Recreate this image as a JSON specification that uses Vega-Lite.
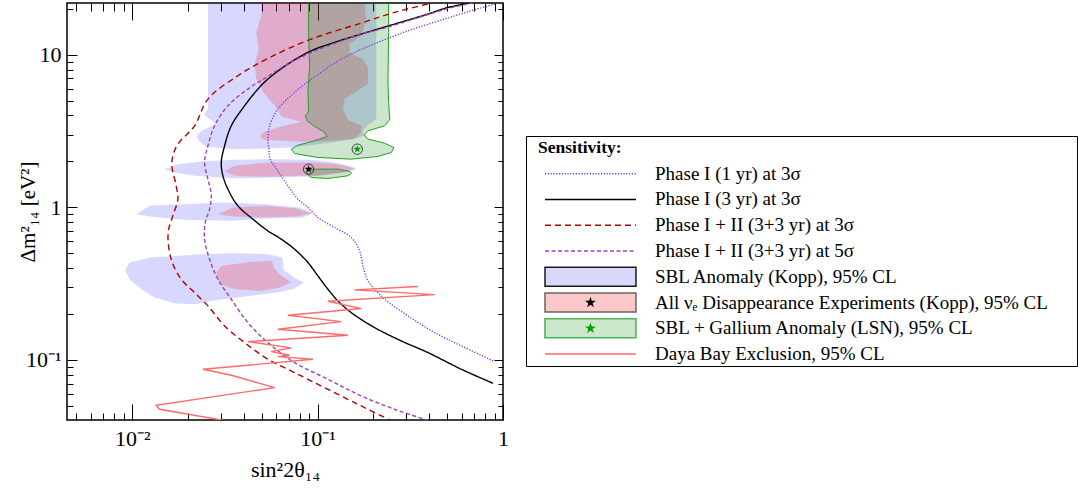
{
"$schema": "https://vega.github.io/schema/vega-lite/v6.json",
"background": "white",
"padding": {"left": 16, "top": 1, "right": 0, "bottom": 0},
"config": {"view": {"stroke": null}, "font": "Liberation Serif",
  "axis": {"labelFont": "Liberation Serif", "titleFont": "Liberation Serif", "titleFontWeight": "normal", "labelColor": "black", "titleColor": "black", "tickColor": "black", "domain": false, "grid": false, "zindex": 0},
  "text": {"font": "Liberation Serif"}},
"datasets": {
 "regions": [
  {"r":"B","p":"B1","i":0,"x":0.02561,"y":25.62},{"r":"B","p":"B1","i":1,"x":0.02561,"y":4.403},{"r":"B","p":"B1","i":2,"x":0.02436,"y":4.021},{"r":"B","p":"B1","i":3,"x":0.02614,"y":3.786},{"r":"B","p":"B1","i":4,"x":0.0284,"y":3.51},{"r":"B","p":"B1","i":5,"x":0.02357,"y":3.174},{"r":"B","p":"B1","i":6,"x":0.02216,"y":2.914},{"r":"B","p":"B1","i":7,"x":0.02309,"y":2.688},{"r":"B","p":"B1","i":8,"x":0.02508,"y":2.492},{"r":"B","p":"B1","i":9,"x":0.03566,"y":2.406},{"r":"B","p":"B1","i":10,"x":0.05395,"y":2.43},{"r":"B","p":"B1","i":11,"x":0.0721,"y":2.467},{"r":"B","p":"B1","i":12,"x":0.1004,"y":2.595},{"r":"B","p":"B1","i":13,"x":0.1519,"y":2.771},{"r":"B","p":"B1","i":14,"x":0.1778,"y":2.943},{"r":"B","p":"B1","i":15,"x":0.1756,"y":3.174},{"r":"B","p":"B1","i":16,"x":0.1869,"y":3.458},{"r":"B","p":"B1","i":17,"x":0.2073,"y":3.786},{"r":"B","p":"B1","i":18,"x":0.2073,"y":25.62},
  {"r":"B","p":"B2","i":0,"x":0.01494,"y":1.779},{"r":"B","p":"B2","i":1,"x":0.01763,"y":1.919},{"r":"B","p":"B2","i":2,"x":0.02357,"y":1.997},{"r":"B","p":"B2","i":3,"x":0.03566,"y":2.048},{"r":"B","p":"B2","i":4,"x":0.05395,"y":2.069},{"r":"B","p":"B2","i":5,"x":0.09245,"y":2.048},{"r":"B","p":"B2","i":6,"x":0.1235,"y":1.968},{"r":"B","p":"B2","i":7,"x":0.1583,"y":1.824},{"r":"B","p":"B2","i":8,"x":0.1616,"y":1.779},{"r":"B","p":"B2","i":9,"x":0.1457,"y":1.692},{"r":"B","p":"B2","i":10,"x":0.09245,"y":1.593},{"r":"B","p":"B2","i":11,"x":0.05395,"y":1.561},{"r":"B","p":"B2","i":12,"x":0.03566,"y":1.553},{"r":"B","p":"B2","i":13,"x":0.02171,"y":1.609},{"r":"B","p":"B2","i":14,"x":0.01692,"y":1.692},
  {"r":"B","p":"B3","i":0,"x":0.01052,"y":0.902},{"r":"B","p":"B3","i":1,"x":0.0124,"y":1.023},{"r":"B","p":"B3","i":2,"x":0.01878,"y":1.049},{"r":"B","p":"B3","i":3,"x":0.03216,"y":1.0755},{"r":"B","p":"B3","i":4,"x":0.05284,"y":1.049},{"r":"B","p":"B3","i":5,"x":0.07996,"y":0.9976},{"r":"B","p":"B3","i":6,"x":0.09435,"y":0.9157},{"r":"B","p":"B3","i":7,"x":0.08336,"y":0.8578},{"r":"B","p":"B3","i":8,"x":0.05284,"y":0.8449},{"r":"B","p":"B3","i":9,"x":0.03493,"y":0.8157},{"r":"B","p":"B3","i":10,"x":0.01878,"y":0.828},{"r":"B","p":"B3","i":11,"x":0.0124,"y":0.8708},
  {"r":"B","p":"B4","i":0,"x":0.009169,"y":0.3892},{"r":"B","p":"B4","i":1,"x":0.009679,"y":0.4347},{"r":"B","p":"B4","i":2,"x":0.01266,"y":0.4688},{"r":"B","p":"B4","i":3,"x":0.02357,"y":0.4931},{"r":"B","p":"B4","i":4,"x":0.03566,"y":0.5005},{"r":"B","p":"B4","i":5,"x":0.05395,"y":0.4931},{"r":"B","p":"B4","i":6,"x":0.06446,"y":0.4688},{"r":"B","p":"B4","i":7,"x":0.06581,"y":0.3892},{"r":"B","p":"B4","i":8,"x":0.07453,"y":0.3466},{"r":"B","p":"B4","i":9,"x":0.08439,"y":0.3214},{"r":"B","p":"B4","i":10,"x":0.07359,"y":0.2906},{"r":"B","p":"B4","i":11,"x":0.05984,"y":0.2764},{"r":"B","p":"B4","i":12,"x":0.04296,"y":0.2628},{"r":"B","p":"B4","i":13,"x":0.0284,"y":0.2474},{"r":"B","p":"B4","i":14,"x":0.02171,"y":0.2317},{"r":"B","p":"B4","i":15,"x":0.01692,"y":0.2353},{"r":"B","p":"B4","i":16,"x":0.0132,"y":0.2563},{"r":"B","p":"B4","i":17,"x":0.01119,"y":0.2906},{"r":"B","p":"B4","i":18,"x":0.009679,"y":0.338},
  {"r":"P","p":"P1","i":0,"x":0.04966,"y":25.62},{"r":"P","p":"P1","i":1,"x":0.04966,"y":18.02},{"r":"P","p":"P1","i":2,"x":0.04667,"y":14.01},{"r":"P","p":"P1","i":3,"x":0.04804,"y":10.89},{"r":"P","p":"P1","i":4,"x":0.04571,"y":8.474},{"r":"P","p":"P1","i":5,"x":0.04667,"y":6.927},{"r":"P","p":"P1","i":6,"x":0.05176,"y":5.523},{"r":"P","p":"P1","i":7,"x":0.06109,"y":4.403},{"r":"P","p":"P1","i":8,"x":0.06367,"y":3.941},{"r":"P","p":"P1","i":9,"x":0.08164,"y":3.636},{"r":"P","p":"P1","i":10,"x":0.06367,"y":3.388},{"r":"P","p":"P1","i":11,"x":0.05176,"y":3.126},{"r":"P","p":"P1","i":12,"x":0.04864,"y":2.914},{"r":"P","p":"P1","i":13,"x":0.05176,"y":2.771},{"r":"P","p":"P1","i":14,"x":0.08164,"y":2.688},{"r":"P","p":"P1","i":15,"x":0.1235,"y":2.729},{"r":"P","p":"P1","i":16,"x":0.1583,"y":2.827},{"r":"P","p":"P1","i":17,"x":0.172,"y":3.095},{"r":"P","p":"P1","i":18,"x":0.172,"y":3.423},{"r":"P","p":"P1","i":19,"x":0.1457,"y":3.748},{"r":"P","p":"P1","i":20,"x":0.137,"y":4.403},{"r":"P","p":"P1","i":21,"x":0.1399,"y":5.121},{"r":"P","p":"P1","i":22,"x":0.1583,"y":5.663},{"r":"P","p":"P1","i":23,"x":0.1869,"y":6.424},{"r":"P","p":"P1","i":24,"x":0.1869,"y":8.264},{"r":"P","p":"P1","i":25,"x":0.1756,"y":9.371},{"r":"P","p":"P1","i":26,"x":0.1488,"y":10.25},{"r":"P","p":"P1","i":27,"x":0.1488,"y":11.74},{"r":"P","p":"P1","i":28,"x":0.172,"y":13.32},{"r":"P","p":"P1","i":29,"x":0.1831,"y":17.14},{"r":"P","p":"P1","i":30,"x":0.1793,"y":20.95},{"r":"P","p":"P1","i":31,"x":0.1793,"y":25.62},
  {"r":"P","p":"P2","i":0,"x":0.0315,"y":1.718},{"r":"P","p":"P2","i":1,"x":0.03566,"y":1.871},{"r":"P","p":"P2","i":2,"x":0.05395,"y":1.968},{"r":"P","p":"P2","i":3,"x":0.1004,"y":1.968},{"r":"P","p":"P2","i":4,"x":0.1342,"y":1.899},{"r":"P","p":"P2","i":5,"x":0.1583,"y":1.797},{"r":"P","p":"P2","i":6,"x":0.1342,"y":1.692},{"r":"P","p":"P2","i":7,"x":0.1004,"y":1.625},{"r":"P","p":"P2","i":8,"x":0.05395,"y":1.585},{"r":"P","p":"P2","i":9,"x":0.03566,"y":1.609},
  {"r":"P","p":"P3","i":0,"x":0.029,"y":0.902},{"r":"P","p":"P3","i":1,"x":0.03493,"y":0.9976},{"r":"P","p":"P3","i":2,"x":0.05284,"y":1.023},{"r":"P","p":"P3","i":3,"x":0.07672,"y":0.9826},{"r":"P","p":"P3","i":4,"x":0.09245,"y":0.9157},{"r":"P","p":"P3","i":5,"x":0.07672,"y":0.8708},{"r":"P","p":"P3","i":6,"x":0.05284,"y":0.862},{"r":"P","p":"P3","i":7,"x":0.03493,"y":0.8708},
  {"r":"P","p":"P4","i":0,"x":0.0284,"y":0.3738},{"r":"P","p":"P4","i":1,"x":0.03023,"y":0.4134},{"r":"P","p":"P4","i":2,"x":0.04296,"y":0.4391},{"r":"P","p":"P4","i":3,"x":0.0567,"y":0.4458},{"r":"P","p":"P4","i":4,"x":0.05813,"y":0.4031},{"r":"P","p":"P4","i":5,"x":0.06236,"y":0.3645},{"r":"P","p":"P4","i":6,"x":0.0721,"y":0.3214},{"r":"P","p":"P4","i":7,"x":0.06236,"y":0.298},{"r":"P","p":"P4","i":8,"x":0.04864,"y":0.2834},{"r":"P","p":"P4","i":9,"x":0.03643,"y":0.2906},{"r":"P","p":"P4","i":10,"x":0.02961,"y":0.3134},
  {"r":"G","p":"G1","i":0,"x":0.08943,"y":25.62},{"r":"G","p":"G1","i":1,"x":0.08943,"y":14.01},{"r":"G","p":"G1","i":2,"x":0.09054,"y":8.474},{"r":"G","p":"G1","i":3,"x":0.0887,"y":5.663},{"r":"G","p":"G1","i":4,"x":0.08943,"y":4.229},{"r":"G","p":"G1","i":5,"x":0.0858,"y":3.981},{"r":"G","p":"G1","i":6,"x":0.08796,"y":3.692},{"r":"G","p":"G1","i":7,"x":0.09632,"y":3.388},{"r":"G","p":"G1","i":8,"x":0.1082,"y":3.126},{"r":"G","p":"G1","i":9,"x":0.1127,"y":2.914},{"r":"G","p":"G1","i":10,"x":0.09632,"y":2.729},{"r":"G","p":"G1","i":11,"x":0.07833,"y":2.556},{"r":"G","p":"G1","i":12,"x":0.0721,"y":2.406},{"r":"G","p":"G1","i":13,"x":0.07515,"y":2.253},{"r":"G","p":"G1","i":14,"x":0.1004,"y":2.122},{"r":"G","p":"G1","i":15,"x":0.1519,"y":2.069},{"r":"G","p":"G1","i":16,"x":0.2116,"y":2.154},{"r":"G","p":"G1","i":17,"x":0.2498,"y":2.288},{"r":"G","p":"G1","i":18,"x":0.2581,"y":2.467},{"r":"G","p":"G1","i":19,"x":0.2299,"y":2.634},{"r":"G","p":"G1","i":20,"x":0.1869,"y":2.798},{"r":"G","p":"G1","i":21,"x":0.1778,"y":2.988},{"r":"G","p":"G1","i":22,"x":0.1869,"y":3.174},{"r":"G","p":"G1","i":23,"x":0.2299,"y":3.423},{"r":"G","p":"G1","i":24,"x":0.2456,"y":3.786},{"r":"G","p":"G1","i":25,"x":0.2426,"y":4.403},{"r":"G","p":"G1","i":26,"x":0.2396,"y":6.587},{"r":"G","p":"G1","i":27,"x":0.2416,"y":14.01},{"r":"G","p":"G1","i":28,"x":0.2416,"y":25.62},
  {"r":"G","p":"G2","i":0,"x":0.08687,"y":1.735},{"r":"G","p":"G2","i":1,"x":0.09632,"y":1.779},{"r":"G","p":"G2","i":2,"x":0.1287,"y":1.779},{"r":"G","p":"G2","i":3,"x":0.1399,"y":1.744},{"r":"G","p":"G2","i":4,"x":0.1488,"y":1.726},{"r":"G","p":"G2","i":5,"x":0.1525,"y":1.675},{"r":"G","p":"G2","i":6,"x":0.1457,"y":1.609},{"r":"G","p":"G2","i":7,"x":0.1137,"y":1.546},{"r":"G","p":"G2","i":8,"x":0.09245,"y":1.569},{"r":"G","p":"G2","i":9,"x":0.08796,"y":1.65}
 ],
 "curves": [
  {"c":"d1","i":0,"x":1.0,"y":22.26},{"c":"d1","i":1,"x":0.902,"y":21.49},{"c":"d1","i":2,"x":0.6476,"y":19.14},{"c":"d1","i":3,"x":0.4847,"y":17.14},{"c":"d1","i":4,"x":0.3479,"y":15.11},{"c":"d1","i":5,"x":0.2603,"y":13.32},{"c":"d1","i":6,"x":0.1869,"y":11.34},{"c":"d1","i":7,"x":0.1583,"y":10.36},{"c":"d1","i":8,"x":0.1235,"y":8.822},{"c":"d1","i":9,"x":0.1046,"y":7.662},{"c":"d1","i":10,"x":0.0887,"y":6.654},{"c":"d1","i":11,"x":0.07515,"y":5.663},{"c":"d1","i":12,"x":0.06109,"y":4.403},{"c":"d1","i":13,"x":0.05508,"y":3.423},{"c":"d1","i":14,"x":0.05395,"y":2.798},{"c":"d1","i":15,"x":0.05462,"y":2.406},{"c":"d1","i":16,"x":0.05554,"y":2.069},{"c":"d1","i":17,"x":0.06109,"y":1.735},{"c":"d1","i":18,"x":0.06917,"y":1.384},{"c":"d1","i":19,"x":0.07833,"y":1.131},{"c":"d1","i":20,"x":0.0887,"y":0.9976},{"c":"d1","i":21,"x":0.1004,"y":0.8578},{"c":"d1","i":22,"x":0.1235,"y":0.7375},{"c":"d1","i":23,"x":0.1519,"y":0.6342},{"c":"d1","i":24,"x":0.1685,"y":0.5185},{"c":"d1","i":25,"x":0.1756,"y":0.4134},{"c":"d1","i":26,"x":0.1869,"y":0.3296},{"c":"d1","i":27,"x":0.2073,"y":0.2834},{"c":"d1","i":28,"x":0.2299,"y":0.2499},{"c":"d1","i":29,"x":0.3072,"y":0.1943},{"c":"d1","i":30,"x":0.428,"y":0.1511},{"c":"d1","i":31,"x":0.5961,"y":0.1236},{"c":"d1","i":32,"x":0.8834,"y":0.0985},
  {"c":"s3","i":0,"x":0.81,"y":23.17},{"c":"s3","i":1,"x":0.675,"y":22.03},{"c":"s3","i":2,"x":0.4847,"y":20.13},{"c":"s3","i":3,"x":0.394,"y":18.48},{"c":"s3","i":4,"x":0.2603,"y":15.89},{"c":"s3","i":5,"x":0.172,"y":13.66},{"c":"s3","i":6,"x":0.1235,"y":12.05},{"c":"s3","i":7,"x":0.09245,"y":10.62},{"c":"s3","i":8,"x":0.06917,"y":8.69},{"c":"s3","i":9,"x":0.05395,"y":6.927},{"c":"s3","i":10,"x":0.04765,"y":5.956},{"c":"s3","i":11,"x":0.04038,"y":4.63},{"c":"s3","i":12,"x":0.03423,"y":3.423},{"c":"s3","i":13,"x":0.0315,"y":2.53},{"c":"s3","i":14,"x":0.03023,"y":1.968},{"c":"s3","i":15,"x":0.03086,"y":1.609},{"c":"s3","i":16,"x":0.03284,"y":1.316},{"c":"s3","i":17,"x":0.03717,"y":1.023},{"c":"s3","i":18,"x":0.04478,"y":0.8364},{"c":"s3","i":19,"x":0.05395,"y":0.7013},{"c":"s3","i":20,"x":0.06367,"y":0.6184},{"c":"s3","i":21,"x":0.07515,"y":0.5317},{"c":"s3","i":22,"x":0.0887,"y":0.4347},{"c":"s3","i":23,"x":0.1004,"y":0.3554},{"c":"s3","i":24,"x":0.1137,"y":0.2906},{"c":"s3","i":25,"x":0.1287,"y":0.2437},{"c":"s3","i":26,"x":0.1519,"y":0.2043},{"c":"s3","i":27,"x":0.203,"y":0.1629},{"c":"s3","i":28,"x":0.2828,"y":0.1332},{"c":"s3","i":29,"x":0.394,"y":0.1117},{"c":"s3","i":30,"x":0.5961,"y":0.08686},{"c":"s3","i":31,"x":0.8834,"y":0.0703},
  {"c":"r3","i":0,"x":0.4989,"y":23.17},{"c":"r3","i":1,"x":0.4106,"y":21.8},{"c":"r3","i":2,"x":0.2603,"y":18.95},{"c":"r3","i":3,"x":0.172,"y":16.13},{"c":"r3","i":4,"x":0.09245,"y":12.67},{"c":"r3","i":5,"x":0.05395,"y":9.46},{"c":"r3","i":6,"x":0.03717,"y":7.285},{"c":"r3","i":7,"x":0.02561,"y":5.121},{"c":"r3","i":8,"x":0.02171,"y":3.423},{"c":"r3","i":9,"x":0.01763,"y":2.595},{"c":"r3","i":10,"x":0.01657,"y":2.176},{"c":"r3","i":11,"x":0.01636,"y":1.871},{"c":"r3","i":12,"x":0.01727,"y":1.384},{"c":"r3","i":13,"x":0.01763,"y":1.131},{"c":"r3","i":14,"x":0.01657,"y":0.8796},{"c":"r3","i":15,"x":0.01563,"y":0.6839},{"c":"r3","i":16,"x":0.01623,"y":0.4572},{"c":"r3","i":17,"x":0.01839,"y":0.338},{"c":"r3","i":18,"x":0.02171,"y":0.2764},{"c":"r3","i":19,"x":0.02561,"y":0.226},{"c":"r3","i":20,"x":0.0315,"y":0.1671},{"c":"r3","i":21,"x":0.04038,"y":0.1299},{"c":"r3","i":22,"x":0.05395,"y":0.101},{"c":"r3","i":23,"x":0.07515,"y":0.08259},{"c":"r3","i":24,"x":0.1137,"y":0.06422},{"c":"r3","i":25,"x":0.172,"y":0.04993},{"c":"r3","i":26,"x":0.2446,"y":0.0404},{"c":"r3","i":27,"x":0.2713,"y":0.03785},
  {"c":"p5","i":0,"x":0.81,"y":22.94},{"c":"p5","i":1,"x":0.675,"y":21.8},{"c":"p5","i":2,"x":0.4847,"y":19.82},{"c":"p5","i":3,"x":0.3479,"y":17.48},{"c":"p5","i":4,"x":0.2299,"y":14.96},{"c":"p5","i":5,"x":0.172,"y":13.66},{"c":"p5","i":6,"x":0.1235,"y":11.87},{"c":"p5","i":7,"x":0.09245,"y":10.36},{"c":"p5","i":8,"x":0.06917,"y":8.69},{"c":"p5","i":9,"x":0.05395,"y":7.212},{"c":"p5","i":10,"x":0.04208,"y":5.956},{"c":"p5","i":11,"x":0.03284,"y":4.63},{"c":"p5","i":12,"x":0.02782,"y":3.423},{"c":"p5","i":13,"x":0.02561,"y":2.53},{"c":"p5","i":14,"x":0.02457,"y":1.968},{"c":"p5","i":15,"x":0.02561,"y":1.53},{"c":"p5","i":16,"x":0.02669,"y":1.2197},{"c":"p5","i":17,"x":0.02614,"y":0.9727},{"c":"p5","i":18,"x":0.02477,"y":0.7953},{"c":"p5","i":19,"x":0.02457,"y":0.6184},{"c":"p5","i":20,"x":0.02614,"y":0.4572},{"c":"p5","i":21,"x":0.029,"y":0.338},{"c":"p5","i":22,"x":0.03423,"y":0.2499},{"c":"p5","i":23,"x":0.04208,"y":0.1757},{"c":"p5","i":24,"x":0.05395,"y":0.1299},{"c":"p5","i":25,"x":0.07515,"y":0.09605},{"c":"p5","i":26,"x":0.1137,"y":0.07469},{"c":"p5","i":27,"x":0.172,"y":0.05807},{"c":"p5","i":28,"x":0.2603,"y":0.04748},{"c":"p5","i":29,"x":0.3858,"y":0.0404},{"c":"p5","i":30,"x":0.428,"y":0.0384}
 ],
 "dayabay": [
  {"c":"db","i":0,"x":0.3479,"y":0.3026},{"c":"db","i":1,"x":0.1583,"y":0.2877},{"c":"db","i":2,"x":0.428,"y":0.2681},{"c":"db","i":3,"x":0.1137,"y":0.2425},{"c":"db","i":4,"x":0.172,"y":0.2171},{"c":"db","i":5,"x":0.06917,"y":0.1963},{"c":"db","i":6,"x":0.1342,"y":0.1784},{"c":"db","i":7,"x":0.06109,"y":0.1589},{"c":"db","i":8,"x":0.1457,"y":0.1451},{"c":"db","i":9,"x":0.04208,"y":0.1319},{"c":"db","i":10,"x":0.0721,"y":0.1199},{"c":"db","i":11,"x":0.05623,"y":0.1134},{"c":"db","i":12,"x":0.07061,"y":0.1073},{"c":"db","i":13,"x":0.06109,"y":0.1052},{"c":"db","i":14,"x":0.09435,"y":0.101},{"c":"db","i":15,"x":0.02407,"y":0.08686},{"c":"db","i":16,"x":0.03423,"y":0.07934},{"c":"db","i":17,"x":0.05861,"y":0.06586},{"c":"db","i":18,"x":0.01347,"y":0.05044},{"c":"db","i":19,"x":0.01404,"y":0.04748},{"c":"db","i":20,"x":0.03023,"y":0.0404},{"c":"db","i":21,"x":0.03284,"y":0.0384}
 ],
 "markers": [{"k":"kopp","x":0.08943,"y":1.779},{"k":"lsn","x":0.1637,"y":2.406}],
 "legend": [
  {"label":"Sensitivity:","key":"hdr","kind":"header"},
  {"label":"Phase I (1 yr) at 3σ","key":"d1","kind":"line"},
  {"label":"Phase I (3 yr) at 3σ","key":"s3","kind":"line"},
  {"label":"Phase I + II (3+3 yr) at 3σ","key":"r3","kind":"line"},
  {"label":"Phase I + II (3+3 yr) at 5σ","key":"p5","kind":"line"},
  {"label":"SBL Anomaly (Kopp), 95% CL","key":"sbl","kind":"box"},
  {"label":"All νₑ Disappearance Experiments (Kopp), 95% CL","key":"kopp","kind":"box"},
  {"label":"SBL + Gallium Anomaly (LSN), 95% CL","key":"lsn","kind":"box"},
  {"label":"Daya Bay Exclusion, 95% CL","key":"db","kind":"line"}
 ]
},
"spacing": 15,
"hconcat": [
 {
  "width": 436, "height": 417,
  "view": {"stroke": "black", "strokeWidth": 1.5},
  "resolve": {"axis": {"x": "independent", "y": "independent"}},
  "layer": [
   {
    "data": {"name": "regions"},
    "transform": [{"filter": "datum.r == 'B'"}],
    "mark": {"type": "line", "interpolate": "linear-closed", "fill": "#0000ff", "fillOpacity": 0.155, "stroke": "transparent", "strokeWidth": 0, "clip": true},
    "encoding": {
     "x": {"field": "x", "type": "quantitative", "scale": {"type": "log", "domain": [0.00445, 1], "nice": false},
       "axis": {"orient": "bottom", "values": [0.005,0.006,0.007,0.008,0.009,0.01,0.02,0.03,0.04,0.05,0.06,0.07,0.08,0.09,0.1,0.2,0.3,0.4,0.5,0.6,0.7,0.8,0.9,1],
        "labelExpr": "abs(log(datum.value)/LN10-round(log(datum.value)/LN10))<0.001 ? (round(log(datum.value)/LN10)==0 ? '1' : round(log(datum.value)/LN10)==1 ? '10' : round(log(datum.value)/LN10)==-1 ? '10⁻¹' : '10⁻²') : ''",
        "tickSize": {"condition": {"test": "abs(log(datum.value)/LN10-round(log(datum.value)/LN10))<0.001", "value": -16}, "value": -7},
        "labelFontSize": {"condition": {"test": "abs(log(datum.value)/LN10-round(log(datum.value)/LN10))<0.001", "value": 22}, "value": 0},
        "tickWidth": 1, "labelBaseline": "alphabetic", "labelPadding": 41, "labelFlush": false, "labelOverlap": false, "labelBound": false,
        "title": "sin²2θ₁₄", "titleFontSize": 22, "titleBaseline": "alphabetic", "titleY": 56}},
     "y": {"field": "y", "type": "quantitative", "scale": {"type": "log", "domain": [0.0404, 21.83], "nice": false},
       "axis": {"orient": "left", "values": [0.05,0.06,0.07,0.08,0.09,0.1,0.2,0.3,0.4,0.5,0.6,0.7,0.8,0.9,1,2,3,4,5,6,7,8,9,10,20],
        "labelExpr": "abs(log(datum.value)/LN10-round(log(datum.value)/LN10))<0.001 ? (round(log(datum.value)/LN10)==0 ? '1' : round(log(datum.value)/LN10)==1 ? '10' : round(log(datum.value)/LN10)==-1 ? '10⁻¹' : '10⁻²') : ''",
        "tickSize": {"condition": {"test": "abs(log(datum.value)/LN10-round(log(datum.value)/LN10))<0.001", "value": -10}, "value": -6},
        "labelFontSize": {"condition": {"test": "abs(log(datum.value)/LN10-round(log(datum.value)/LN10))<0.001", "value": 22}, "value": 0},
        "tickWidth": 1, "labelPadding": 16, "labelFlush": false, "labelOverlap": false, "labelBound": false,
        "title": "Δm²₁₄ [eV²]", "titleFontSize": 21, "titleX": -33, "titleBaseline": "alphabetic"}},
     "detail": {"field": "p"},
     "order": {"field": "i", "type": "quantitative"}
    }
   },
   {
    "data": {"name": "regions"},
    "transform": [{"filter": "datum.r == 'P'"}],
    "mark": {"type": "line", "interpolate": "linear-closed", "fill": "#ff0000", "fillOpacity": 0.2, "stroke": "transparent", "strokeWidth": 0, "clip": true},
    "encoding": {
     "x": {"field": "x", "type": "quantitative", "scale": {"type": "log", "domain": [0.00445, 1], "nice": false},
       "axis": {"orient": "top", "values": [0.005,0.006,0.007,0.008,0.009,0.01,0.02,0.03,0.04,0.05,0.06,0.07,0.08,0.09,0.1,0.2,0.3,0.4,0.5,0.6,0.7,0.8,0.9,1],
        "labels": false, "title": null, "tickWidth": 1,
        "tickSize": {"condition": {"test": "abs(log(datum.value)/LN10-round(log(datum.value)/LN10))<0.001", "value": -17}, "value": -8}}},
     "y": {"field": "y", "type": "quantitative", "scale": {"type": "log", "domain": [0.0404, 21.83], "nice": false},
       "axis": {"orient": "right", "values": [0.05,0.06,0.07,0.08,0.09,0.1,0.2,0.3,0.4,0.5,0.6,0.7,0.8,0.9,1,2,3,4,5,6,7,8,9,10,20],
        "labels": false, "title": null, "tickWidth": 1,
        "tickSize": {"condition": {"test": "abs(log(datum.value)/LN10-round(log(datum.value)/LN10))<0.001", "value": -9}, "value": -5}}},
     "detail": {"field": "p"},
     "order": {"field": "i", "type": "quantitative"}
    }
   },
   {
    "data": {"name": "regions"},
    "transform": [{"filter": "datum.r == 'G'"}],
    "mark": {"type": "line", "interpolate": "linear-closed", "fill": "#008000", "fillOpacity": 0.2, "stroke": "#22a022", "strokeWidth": 1, "clip": true},
    "encoding": {
     "x": {"field": "x", "type": "quantitative", "scale": {"type": "log", "domain": [0.00445, 1], "nice": false}, "axis": null},
     "y": {"field": "y", "type": "quantitative", "scale": {"type": "log", "domain": [0.0404, 21.83], "nice": false}, "axis": null},
     "detail": {"field": "p"},
     "order": {"field": "i", "type": "quantitative"}
    }
   },
   {
    "data": {"name": "curves"},
    "mark": {"type": "line", "interpolate": "catmull-rom", "strokeWidth": 1.4, "clip": true},
    "encoding": {
     "x": {"field": "x", "type": "quantitative", "scale": {"type": "log", "domain": [0.00445, 1], "nice": false}, "axis": null},
     "y": {"field": "y", "type": "quantitative", "scale": {"type": "log", "domain": [0.0404, 21.83], "nice": false}, "axis": null},
     "color": {"field": "c", "type": "nominal", "scale": {"domain": ["d1","s3","r3","p5","db"], "range": ["#7a3ae8","#000000","#b00000","#a040b8","#ff6a6a"]}, "legend": null},
     "strokeDash": {"field": "c", "type": "nominal", "scale": {"domain": ["d1","s3","r3","p5","db"], "range": [[1.2,1.6],[1,0],[6,4],[4,2.5],[1,0]]}, "legend": null},
     "order": {"field": "i", "type": "quantitative"}
    }
   },
   {
    "data": {"name": "dayabay"},
    "mark": {"type": "line", "interpolate": "linear", "strokeWidth": 1.4, "clip": true},
    "encoding": {
     "x": {"field": "x", "type": "quantitative", "scale": {"type": "log", "domain": [0.00445, 1], "nice": false}, "axis": null},
     "y": {"field": "y", "type": "quantitative", "scale": {"type": "log", "domain": [0.0404, 21.83], "nice": false}, "axis": null},
     "color": {"field": "c", "type": "nominal", "scale": {"domain": ["d1","s3","r3","p5","db"], "range": ["#7a3ae8","#000000","#b00000","#a040b8","#ff6a6a"]}, "legend": null},
     "order": {"field": "i", "type": "quantitative"}
    }
   },
   {
    "data": {"name": "markers"},
    "mark": {"type": "point", "shape": "circle", "filled": false, "stroke": "black", "strokeWidth": 1, "size": 107, "clip": true},
    "encoding": {
     "x": {"field": "x", "type": "quantitative", "scale": {"type": "log", "domain": [0.00445, 1], "nice": false}, "axis": null},
     "y": {"field": "y", "type": "quantitative", "scale": {"type": "log", "domain": [0.0404, 21.83], "nice": false}, "axis": null}
    }
   },
   {
    "data": {"name": "markers"},
    "transform": [{"filter": "datum.k == 'kopp'"}],
    "mark": {"type": "point", "shape": "M0,-1L0.2245,-0.309L0.951,-0.309L0.363,0.118L0.588,0.809L0,0.382L-0.588,0.809L-0.363,0.118L-0.951,-0.309L-0.2245,-0.309Z", "filled": true, "fill": "#000000", "strokeWidth": 0, "size": 72, "opacity": 1, "clip": true},
    "encoding": {
     "x": {"field": "x", "type": "quantitative", "scale": {"type": "log", "domain": [0.00445, 1], "nice": false}, "axis": null},
     "y": {"field": "y", "type": "quantitative", "scale": {"type": "log", "domain": [0.0404, 21.83], "nice": false}, "axis": null}
    }
   },
   {
    "data": {"name": "markers"},
    "transform": [{"filter": "datum.k == 'lsn'"}],
    "mark": {"type": "point", "shape": "M0,-1L0.2245,-0.309L0.951,-0.309L0.363,0.118L0.588,0.809L0,0.382L-0.588,0.809L-0.363,0.118L-0.951,-0.309L-0.2245,-0.309Z", "filled": true, "fill": "#00a000", "strokeWidth": 0, "size": 72, "opacity": 1, "clip": true},
    "encoding": {
     "x": {"field": "x", "type": "quantitative", "scale": {"type": "log", "domain": [0.00445, 1], "nice": false}, "axis": null},
     "y": {"field": "y", "type": "quantitative", "scale": {"type": "log", "domain": [0.0404, 21.83], "nice": false}, "axis": null}
    }
   }
  ]
 },
 {
  "spacing": 0,
  "vconcat": [
   {"width": 551, "height": 132, "data": {"values": [{"t": ""}]}, "mark": {"type": "text"}, "encoding": {"text": {"field": "t"}}},
   {
    "width": 551, "height": 230,
    "view": {"stroke": "black", "strokeWidth": 1},
    "data": {"name": "legend"},
    "layer": [
     {
      "transform": [{"filter": "datum.kind == 'box'"}],
      "mark": {"type": "rect", "strokeWidth": 1.5},
      "encoding": {
       "x": {"datum": 0.0345, "type": "quantitative", "scale": {"domain": [0, 1]}, "axis": null},
       "x2": {"datum": 0.1996},
       "y": {"field": "key", "type": "nominal", "scale": {"type": "band", "domain": ["hdr","d1","s3","r3","p5","sbl","kopp","lsn","db"], "paddingInner": 0.262, "paddingOuter": 0.097}, "axis": null},
       "fill": {"field": "key", "type": "nominal", "scale": {"domain": ["sbl","kopp","lsn"], "range": ["#d8d8fc","#fcc8c8","#cce8cc"]}, "legend": null},
       "stroke": {"field": "key", "type": "nominal", "scale": {"domain": ["sbl","kopp","lsn"], "range": ["#1a1a1a","#666666","#4caf50"]}, "legend": null}
      }
     },
     {
      "transform": [{"filter": "datum.kind == 'line'"}],
      "mark": {"type": "rule", "strokeWidth": 1.5},
      "encoding": {
       "x": {"datum": 0.0345, "type": "quantitative", "scale": {"domain": [0, 1]}, "axis": null},
       "x2": {"datum": 0.1996},
       "y": {"field": "key", "type": "nominal", "scale": {"type": "band", "domain": ["hdr","d1","s3","r3","p5","sbl","kopp","lsn","db"], "paddingInner": 0.262, "paddingOuter": 0.097}, "axis": null},
       "color": {"field": "key", "type": "nominal", "scale": {"domain": ["d1","s3","r3","p5","db"], "range": ["#7a3ae8","#000000","#b00000","#a040b8","#ff6a6a"]}, "legend": null},
       "strokeDash": {"field": "key", "type": "nominal", "scale": {"domain": ["d1","s3","r3","p5","db"], "range": [[1.2,1.6],[1,0],[6,4],[4,2.5],[1,0]]}, "legend": null}
      }
     },
     {
      "transform": [{"filter": "datum.key == 'kopp'"}],
      "mark": {"type": "point", "shape": "M0,-1L0.2245,-0.309L0.951,-0.309L0.363,0.118L0.588,0.809L0,0.382L-0.588,0.809L-0.363,0.118L-0.951,-0.309L-0.2245,-0.309Z", "filled": true, "fill": "#000000", "strokeWidth": 0, "size": 135, "opacity": 1},
      "encoding": {
       "x": {"datum": 0.117, "type": "quantitative", "scale": {"domain": [0, 1]}, "axis": null},
       "y": {"field": "key", "type": "nominal", "scale": {"type": "band", "domain": ["hdr","d1","s3","r3","p5","sbl","kopp","lsn","db"], "paddingInner": 0.262, "paddingOuter": 0.097}, "axis": null}
      }
     },
     {
      "transform": [{"filter": "datum.key == 'lsn'"}],
      "mark": {"type": "point", "shape": "M0,-1L0.2245,-0.309L0.951,-0.309L0.363,0.118L0.588,0.809L0,0.382L-0.588,0.809L-0.363,0.118L-0.951,-0.309L-0.2245,-0.309Z", "filled": true, "fill": "#00a000", "strokeWidth": 0, "size": 135, "opacity": 1},
      "encoding": {
       "x": {"datum": 0.117, "type": "quantitative", "scale": {"domain": [0, 1]}, "axis": null},
       "y": {"field": "key", "type": "nominal", "scale": {"type": "band", "domain": ["hdr","d1","s3","r3","p5","sbl","kopp","lsn","db"], "paddingInner": 0.262, "paddingOuter": 0.097}, "axis": null}
      }
     },
     {
      "transform": [{"filter": "datum.kind != 'header'"}],
      "mark": {"type": "text", "align": "left", "baseline": "middle", "fontSize": 19, "font": "Liberation Serif", "color": "black"},
      "encoding": {
       "x": {"datum": 0.2341, "type": "quantitative", "scale": {"domain": [0, 1]}, "axis": null},
       "y": {"field": "key", "type": "nominal", "scale": {"type": "band", "domain": ["hdr","d1","s3","r3","p5","sbl","kopp","lsn","db"], "paddingInner": 0.262, "paddingOuter": 0.097}, "axis": null},
       "text": {"field": "label"}
      }
     },
     {
      "transform": [{"filter": "datum.kind == 'header'"}],
      "mark": {"type": "text", "align": "left", "baseline": "middle", "fontSize": 17.5, "font": "Liberation Serif", "fontWeight": "bold", "color": "black"},
      "encoding": {
       "x": {"datum": 0.0218, "type": "quantitative", "scale": {"domain": [0, 1]}, "axis": null},
       "y": {"field": "key", "type": "nominal", "scale": {"type": "band", "domain": ["hdr","d1","s3","r3","p5","sbl","kopp","lsn","db"], "paddingInner": 0.262, "paddingOuter": 0.097}, "axis": null},
       "text": {"field": "label"}
      }
     }
    ]
   }
  ]
 }
]
}
